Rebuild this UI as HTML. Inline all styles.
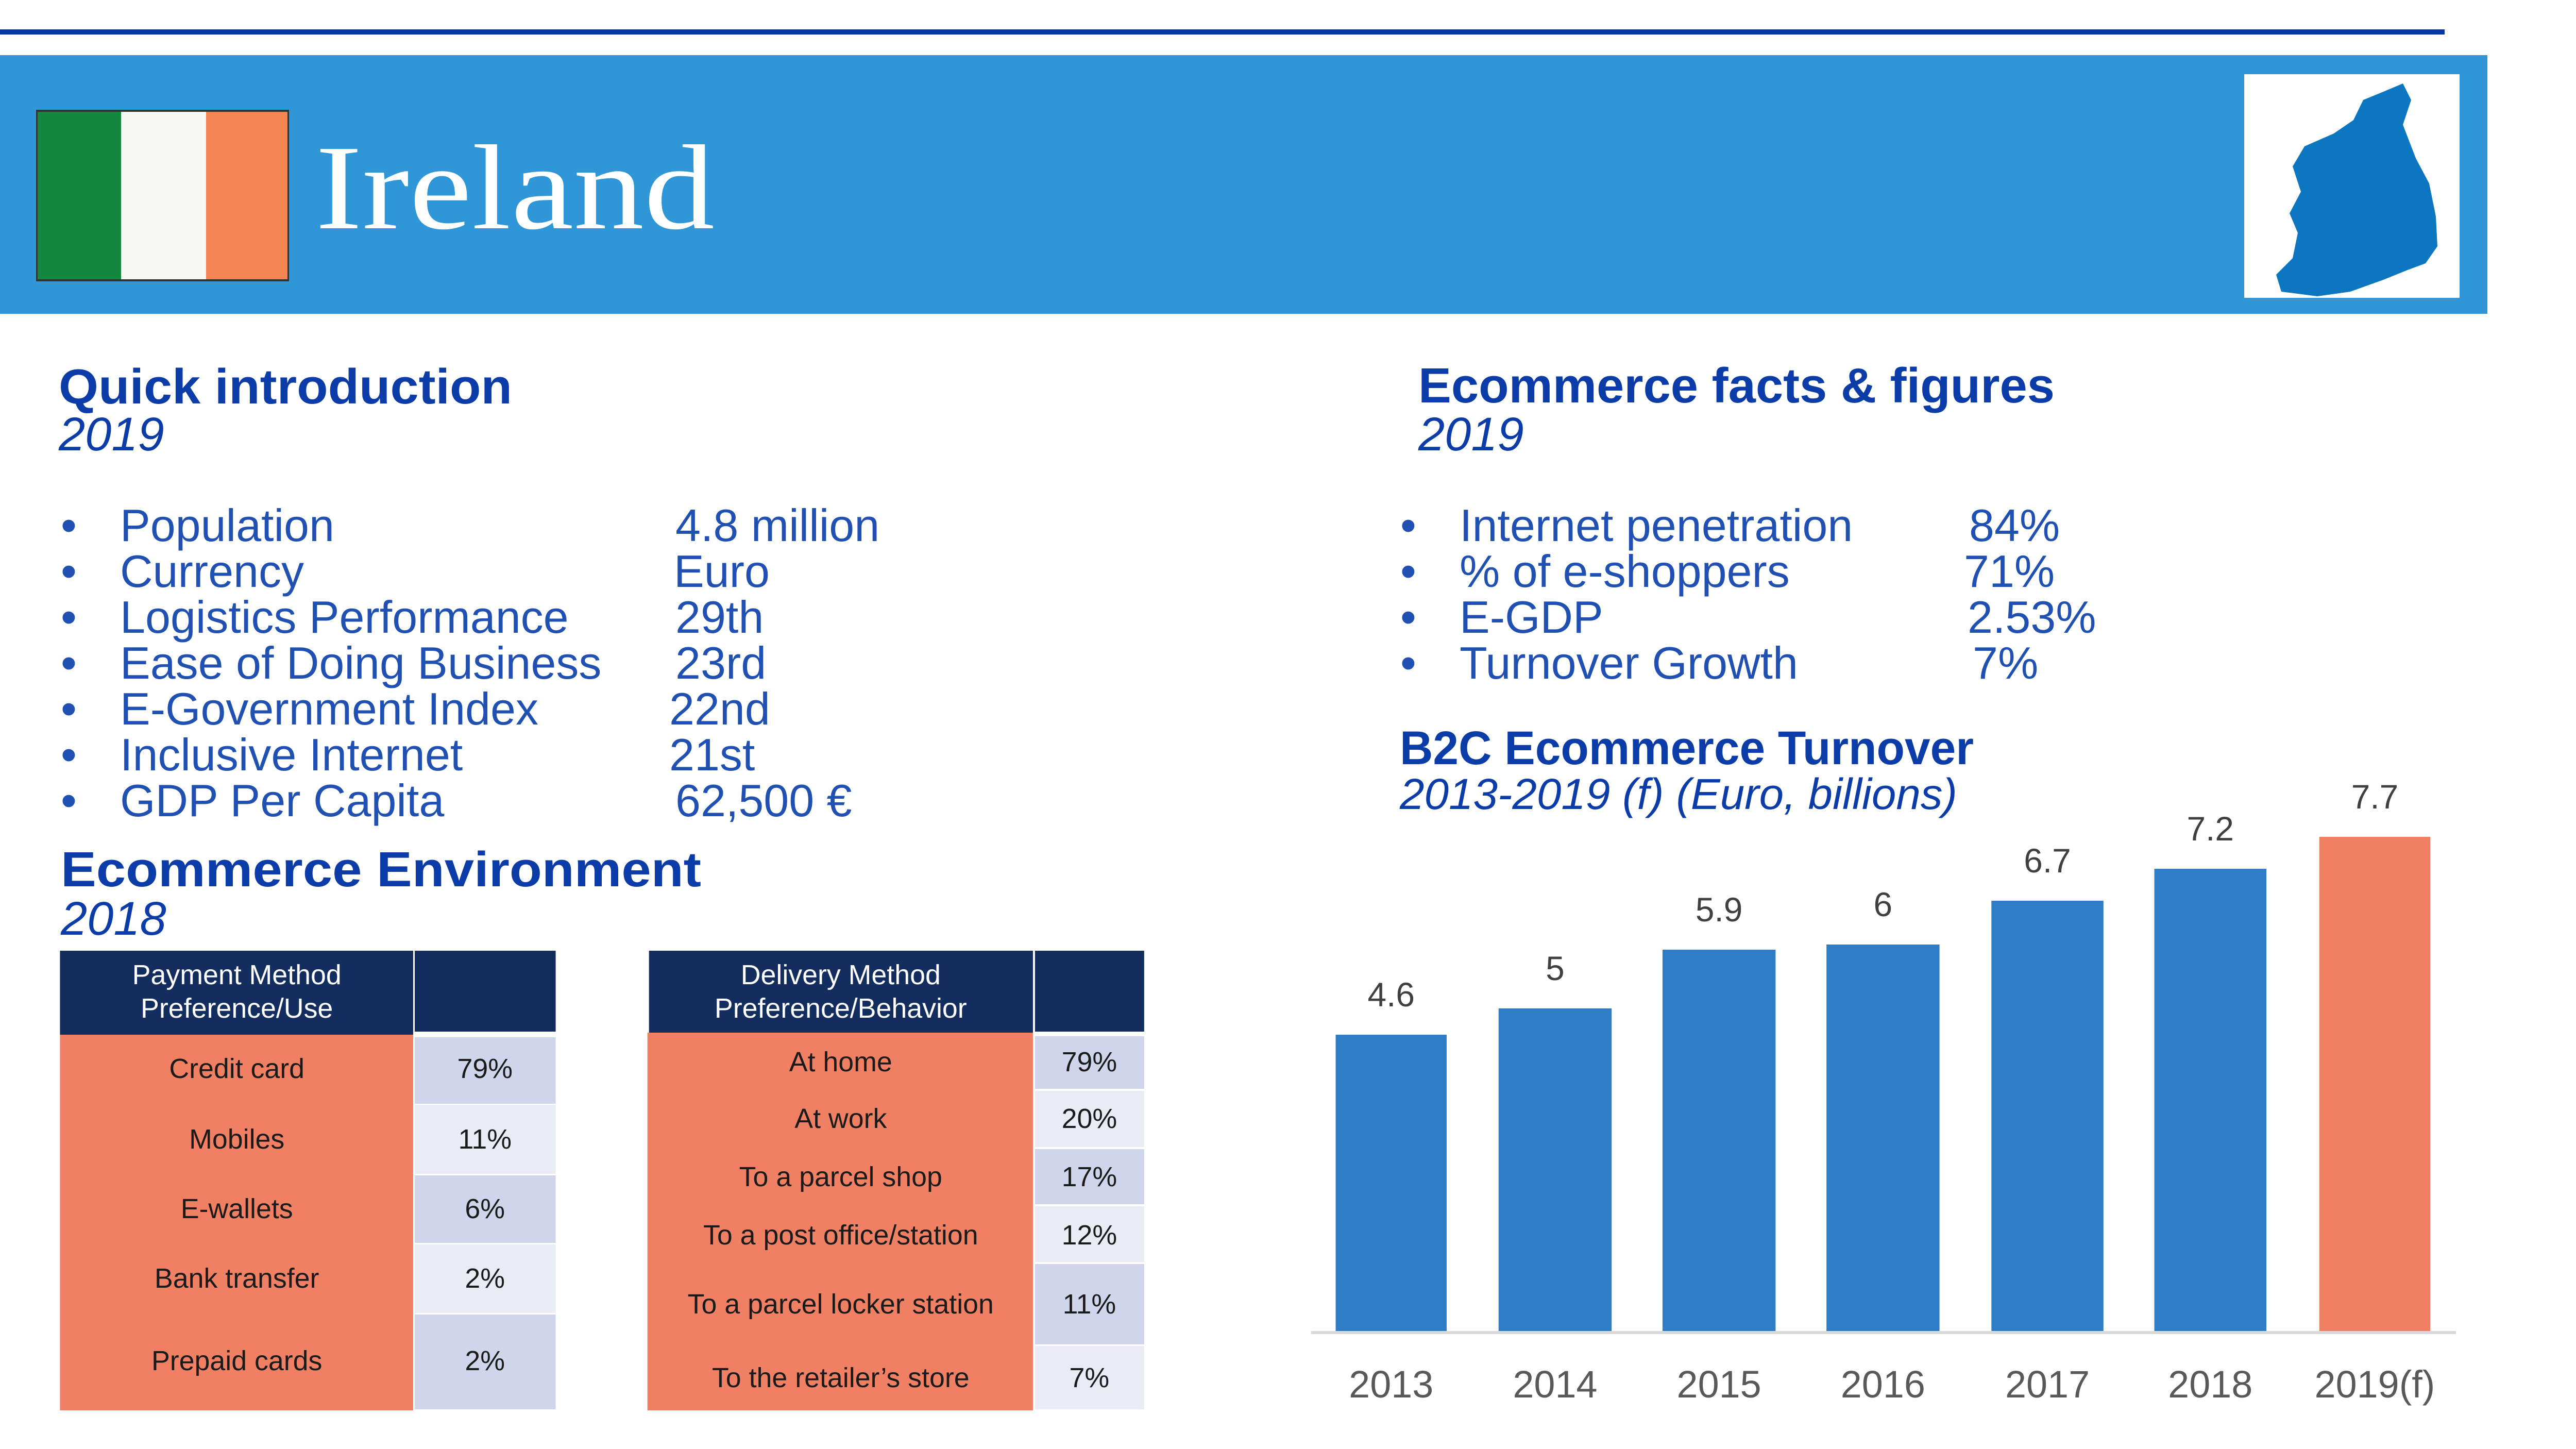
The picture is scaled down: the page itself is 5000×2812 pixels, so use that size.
<!DOCTYPE html>
<html><head><meta charset="utf-8"><style>
html,body{margin:0;padding:0;background:#fff;}
svg{display:block;}
.h{font-family:"Liberation Sans",sans-serif;font-weight:bold;fill:#0b3ca8;}
.y{font-family:"Liberation Sans",sans-serif;font-style:italic;fill:#0b3ca8;}
.b{font-family:"Liberation Sans",sans-serif;fill:#1f50b2;font-size:88px;}
.t{font-family:"Liberation Sans",sans-serif;font-size:54px;fill:#1a1a1a;text-anchor:middle;}
.w{font-family:"Liberation Sans",sans-serif;font-size:54px;fill:#fff;text-anchor:middle;}
.v{font-family:"Liberation Sans",sans-serif;font-size:66px;fill:#404040;text-anchor:middle;}
.x{font-family:"Liberation Sans",sans-serif;font-size:74px;fill:#595959;text-anchor:middle;}
</style></head><body>
<svg width="5000" height="2812" viewBox="0 0 5000 2812" xmlns="http://www.w3.org/2000/svg">
<rect x="0" y="0" width="5000" height="2812" fill="#fff"/>
<rect x="0" y="57" width="4745" height="10" fill="#0437a4"/>
<rect x="0" y="107" width="4828" height="502" fill="#2f96d8"/>
<!-- flag -->
<rect x="70" y="213" width="491" height="333" fill="#333"/>
<rect x="73" y="217" width="162" height="325" fill="#12883e"/>
<rect x="235" y="217" width="165" height="325" fill="#f7f7f5"/>
<rect x="400" y="217" width="158" height="325" fill="#f58654"/>
<text x="612" y="443" font-family="Liberation Serif, serif" font-size="235" fill="#fff" textLength="775" lengthAdjust="spacingAndGlyphs">Ireland</text>
<!-- map -->
<rect x="4356" y="144" width="418" height="434" fill="#fff"/>
<polygon fill="#0c77c0" points="4664,162 4680,194 4664,242 4689,307 4715,356 4728,420 4731,478 4708,511 4673,524 4626,543 4562,566 4498,575 4428,566 4418,533 4450,501 4460,452 4444,414 4466,372 4450,323 4473,284 4530,259 4568,233 4587,194 4626,178"/>
<!-- headings -->
<text class="h" x="114" y="783" font-size="96" textLength="880" lengthAdjust="spacingAndGlyphs">Quick introduction</text>
<text class="y" x="114" y="874" font-size="92">2019</text>
<text class="h" x="2753" y="781" font-size="96" textLength="1235" lengthAdjust="spacingAndGlyphs">Ecommerce facts &amp; figures</text>
<text class="y" x="2753" y="874" font-size="92">2019</text>
<text class="h" x="118" y="1720" font-size="96" textLength="1243" lengthAdjust="spacingAndGlyphs">Ecommerce Environment</text>
<text class="y" x="118" y="1814" font-size="92">2018</text>
<text class="h" x="2717" y="1483" font-size="92" textLength="1114" lengthAdjust="spacingAndGlyphs">B2C Ecommerce Turnover</text>
<text class="y" x="2717" y="1570" font-size="84" textLength="1082" lengthAdjust="spacingAndGlyphs">2013-2019 (f) (Euro, billions)</text>
<!-- bullets left -->
<g class="b">
<text x="118" y="1050">•</text><text x="233" y="1050">Population</text><text x="1311" y="1050">4.8 million</text>
<text x="118" y="1139">•</text><text x="233" y="1139">Currency</text><text x="1308" y="1139">Euro</text>
<text x="118" y="1228">•</text><text x="233" y="1228">Logistics Performance</text><text x="1311" y="1228">29th</text>
<text x="118" y="1317">•</text><text x="233" y="1317">Ease of Doing Business</text><text x="1311" y="1317">23rd</text>
<text x="118" y="1406">•</text><text x="233" y="1406">E-Government Index</text><text x="1299" y="1406">22nd</text>
<text x="118" y="1495">•</text><text x="233" y="1495">Inclusive Internet</text><text x="1299" y="1495">21st</text>
<text x="118" y="1584">•</text><text x="233" y="1584">GDP Per Capita</text><text x="1311" y="1584">62,500 €</text>
</g>
<g class="b">
<text x="2718" y="1050">•</text><text x="2833" y="1050">Internet penetration</text><text x="3822" y="1050">84%</text>
<text x="2718" y="1139">•</text><text x="2833" y="1139">% of e-shoppers</text><text x="3812" y="1139">71%</text>
<text x="2718" y="1228">•</text><text x="2833" y="1228">E-GDP</text><text x="3819" y="1228">2.53%</text>
<text x="2718" y="1317">•</text><text x="2833" y="1317">Turnover Growth</text><text x="3829" y="1317">7%</text>
</g>
<g transform="scale(0.995,1)">
<!-- payment table -->
<rect x="117" y="1845" width="689" height="163" fill="#132e5e"/>
<rect x="809" y="1845" width="275" height="157" fill="#132e5e"/>
<rect x="117" y="2008" width="689" height="729" fill="#ef8063"/>
<rect x="809" y="2013" width="275" height="129" fill="#cfd5ea"/>
<rect x="809" y="2144" width="275" height="134" fill="#e9ebf5"/>
<rect x="809" y="2281" width="275" height="131" fill="#cfd5ea"/>
<rect x="809" y="2415" width="275" height="133" fill="#e9ebf5"/>
<rect x="809" y="2551" width="275" height="184" fill="#cfd5ea"/>
<text class="w" x="462" y="1910">Payment Method</text>
<text class="w" x="462" y="1975">Preference/Use</text>
<text class="t" x="462" y="2092">Credit card</text><text class="t" x="946" y="2092">79%</text>
<text class="t" x="462" y="2229">Mobiles</text><text class="t" x="946" y="2229">11%</text>
<text class="t" x="462" y="2364">E-wallets</text><text class="t" x="946" y="2364">6%</text>
<text class="t" x="462" y="2499">Bank transfer</text><text class="t" x="946" y="2499">2%</text>
<text class="t" x="462" y="2659">Prepaid cards</text><text class="t" x="946" y="2659">2%</text>
<!-- delivery table -->
<rect x="1266" y="1845" width="749" height="159" fill="#132e5e"/>
<rect x="2019" y="1845" width="213" height="157" fill="#132e5e"/>
<rect x="1263" y="2004" width="752" height="733" fill="#ef8063"/>
<rect x="2019" y="2011" width="213" height="102" fill="#cfd5ea"/>
<rect x="2019" y="2117" width="213" height="109" fill="#e9ebf5"/>
<rect x="2019" y="2230" width="213" height="107" fill="#cfd5ea"/>
<rect x="2019" y="2341" width="213" height="108" fill="#e9ebf5"/>
<rect x="2019" y="2453" width="213" height="156" fill="#cfd5ea"/>
<rect x="2019" y="2612" width="213" height="123" fill="#e9ebf5"/>
<text class="w" x="1640" y="1910">Delivery Method</text>
<text class="w" x="1640" y="1975">Preference/Behavior</text>
<text class="t" x="1640" y="2079">At home</text><text class="t" x="2125" y="2079">79%</text>
<text class="t" x="1640" y="2189">At work</text><text class="t" x="2125" y="2189">20%</text>
<text class="t" x="1640" y="2302">To a parcel shop</text><text class="t" x="2125" y="2302">17%</text>
<text class="t" x="1640" y="2415">To a post office/station</text><text class="t" x="2125" y="2415">12%</text>
<text class="t" x="1640" y="2549">To a parcel locker station</text><text class="t" x="2125" y="2549">11%</text>
<text class="t" x="1640" y="2692">To the retailer’s store</text><text class="t" x="2125" y="2692">7%</text>
</g>
<g transform="translate(6,0) scale(0.9975,1)">
<!-- chart -->
<g fill="#2e7dc6">
<rect x="2593" y="2008" width="216" height="576"/>
<rect x="2910" y="1957" width="220" height="627"/>
<rect x="3229" y="1843" width="220" height="741"/>
<rect x="3548" y="1833" width="220" height="751"/>
<rect x="3869" y="1748" width="218" height="836"/>
<rect x="4186" y="1686" width="218" height="898"/>
</g>
<rect x="4507" y="1624" width="216" height="960" fill="#ef8063"/>
<rect x="2545" y="2583" width="2228" height="6" fill="#d9d9d9"/>
<text class="v" x="2701" y="1953">4.6</text>
<text class="v" x="3020" y="1902">5</text>
<text class="v" x="3339" y="1788">5.9</text>
<text class="v" x="3658" y="1778">6</text>
<text class="v" x="3978" y="1693">6.7</text>
<text class="v" x="4295" y="1631">7.2</text>
<text class="v" x="4615" y="1569">7.7</text>
<text class="x" x="2701" y="2712">2013</text>
<text class="x" x="3020" y="2712">2014</text>
<text class="x" x="3339" y="2712">2015</text>
<text class="x" x="3658" y="2712">2016</text>
<text class="x" x="3978" y="2712">2017</text>
<text class="x" x="4295" y="2712">2018</text>
<text class="x" x="4615" y="2712">2019(f)</text>
</g>
</svg>
</body></html>
